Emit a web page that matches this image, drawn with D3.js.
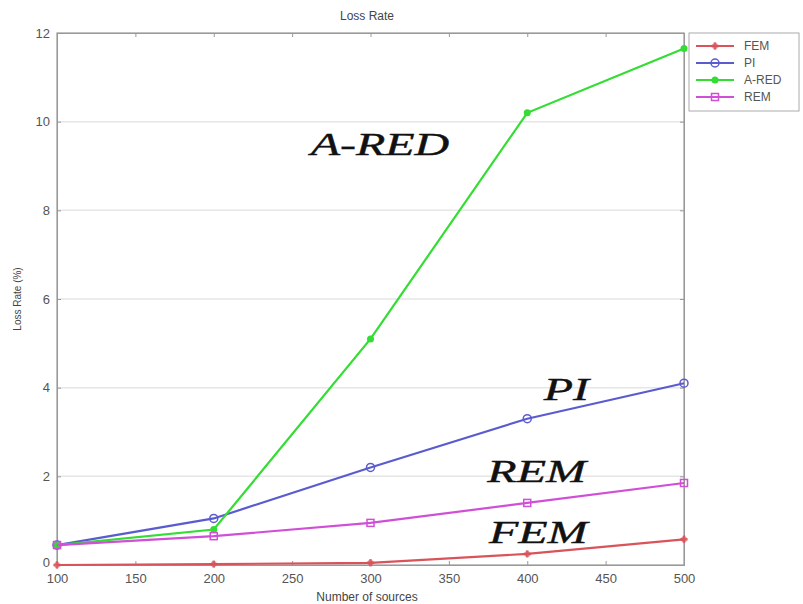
<!DOCTYPE html>
<html><head><meta charset="utf-8">
<script src="https://cdn.jsdelivr.net/npm/d3@7"></script>
<style>body{margin:0;background:#fff}svg{display:block}</style>
</head><body>
<svg id="c" width="803" height="604"></svg>
<script>
const sources = [100, 200, 300, 400, 500];
const femValues = [0.0, 0.02, 0.05, 0.25, 0.58];
const piValues = [0.45, 1.05, 2.2, 3.3, 4.1];
const aredValues = [0.45, 0.8, 5.1, 10.2, 11.65];
const remValues = [0.45, 0.65, 0.95, 1.4, 1.85];
const xTicks = [100, 150, 200, 250, 300, 350, 400, 450, 500];
const yTicks = [0, 2, 4, 6, 8, 10, 12];
const seriesNames = ["FEM", "PI", "A-RED", "REM"];
const seriesColors = ["#d9535b", "#5b5bd0", "#33dd33", "#d04fd6"];
const seriesMarkers = ["star", "circle", "dot", "square"];
const annotations = [
  {text: "A-RED", x: 306, y: 9.25},
  {text: "PI", x: 425, y: 3.72},
  {text: "REM", x: 406, y: 1.87},
  {text: "FEM", x: 407, y: 0.5}
];

const svg = d3.select("#c");
const m = {l: 57, r: 684, t: 33, b: 565};
const x = d3.scaleLinear().domain([100, 500]).range([m.l, m.r]);
const y = d3.scaleLinear().domain([0, 12]).range([m.b, m.t]);
const sans = "Liberation Sans, Arial, sans-serif";

// grid
svg.append("g").selectAll("line").data(yTicks.filter(d => d > 0 && d < 12)).join("line")
  .attr("x1", m.l).attr("x2", m.r).attr("y1", d => y(d)).attr("y2", d => y(d))
  .attr("stroke", "#e6e6e6").attr("stroke-width", 1.5);

// frame
svg.append("rect").attr("x", m.l).attr("y", m.t).attr("width", m.r - m.l).attr("height", m.b - m.t)
  .attr("fill", "none").attr("stroke", "#999").attr("stroke-width", 1.2);

const xa = svg.append("g").attr("transform", `translate(0,${m.b})`)
  .call(d3.axisBottom(x).tickValues(xTicks).tickSize(-4).tickPadding(9));
const ya = svg.append("g").attr("transform", `translate(${m.l},0)`)
  .call(d3.axisLeft(y).tickValues(yTicks).tickSize(-4).tickPadding(7));
svg.append("g").attr("transform", `translate(0,${m.t})`)
  .call(d3.axisTop(x).tickValues(xTicks).tickSize(-4).tickFormat(""));
svg.append("g").attr("transform", `translate(${m.r},0)`)
  .call(d3.axisRight(y).tickValues(yTicks).tickSize(-4).tickFormat(""));
svg.selectAll(".domain").attr("stroke", "#999");
svg.selectAll(".tick line").attr("stroke", "#999");
svg.selectAll(".tick text").attr("fill", "#555").attr("font-family", sans).attr("font-size", 13);
ya.selectAll(".tick text").filter(d => d === 0).attr("dy", "0.1em");

// titles
svg.append("text").attr("x", 367).attr("y", 20).attr("text-anchor", "middle")
  .attr("font-family", sans).attr("font-size", 12).attr("fill", "#444").text("Loss Rate");
svg.append("text").attr("x", 367).attr("y", 601).attr("text-anchor", "middle")
  .attr("font-family", sans).attr("font-size", 12).attr("fill", "#444").text("Number of sources");
svg.append("text").attr("transform", "translate(21,299) rotate(-90)").attr("text-anchor", "middle")
  .attr("font-family", sans).attr("font-size", 10).attr("fill", "#444").text("Loss Rate (%)");

const allValues = [femValues, piValues, aredValues, remValues];
const line = d3.line().x((d, i) => x(sources[i])).y(d => y(d));

function drawMarker(g, type, color) {
  if (type === "star") {
    g.append("path").attr("d", d3.symbol(d3.symbolCross, 30)()).attr("fill", color).attr("opacity", 0.8);
    g.append("circle").attr("r", 3).attr("fill", color).attr("opacity", 0.6);
  } else if (type === "circle") {
    g.append("circle").attr("r", 4).attr("fill", "none").attr("stroke", color).attr("stroke-width", 1.5);
  } else if (type === "dot") {
    g.append("circle").attr("r", 3.5).attr("fill", color);
  } else {
    g.append("rect").attr("x", -3.5).attr("y", -3.5).attr("width", 7).attr("height", 7)
      .attr("fill", "none").attr("stroke", color).attr("stroke-width", 1.5);
  }
}

allValues.forEach((vals, si) => {
  const g = svg.append("g");
  g.append("path").datum(vals).attr("d", line).attr("fill", "none")
    .attr("stroke", seriesColors[si]).attr("stroke-width", 2.2);
  vals.forEach((v, i) => {
    const mg = g.append("g").attr("transform", `translate(${x(sources[i])},${y(v)})`);
    drawMarker(mg, seriesMarkers[si], seriesColors[si]);
  });
});

// annotations (stretched italic serif)
annotations.forEach(a => {
  svg.append("text").attr("transform", `translate(${x(a.x)},${y(a.y)}) scale(1.5,1)`)
    .attr("text-anchor", "middle")
    .attr("font-family", "Liberation Serif, Times New Roman, serif").attr("font-style", "italic")
    .attr("font-size", 32).attr("fill", "#111").attr("stroke", "#111").attr("stroke-width", 0.4)
    .text(a.text);
});

// legend
const lg = svg.append("g").attr("transform", "translate(689,33)");
lg.append("rect").attr("width", 110).attr("height", 78).attr("fill", "#fff").attr("stroke", "#aaa");
seriesNames.forEach((n, i) => {
  const yy = 13 + i * 17;
  lg.append("line").attr("x1", 7).attr("x2", 45).attr("y1", yy).attr("y2", yy)
    .attr("stroke", seriesColors[i]).attr("stroke-width", 2);
  const mg = lg.append("g").attr("transform", `translate(26,${yy})`);
  drawMarker(mg, seriesMarkers[i], seriesColors[i]);
  lg.append("text").attr("x", 55).attr("y", yy + 4).attr("font-family", sans)
    .attr("font-size", 12).attr("fill", "#555").text(n);
});
</script>
</body></html>
